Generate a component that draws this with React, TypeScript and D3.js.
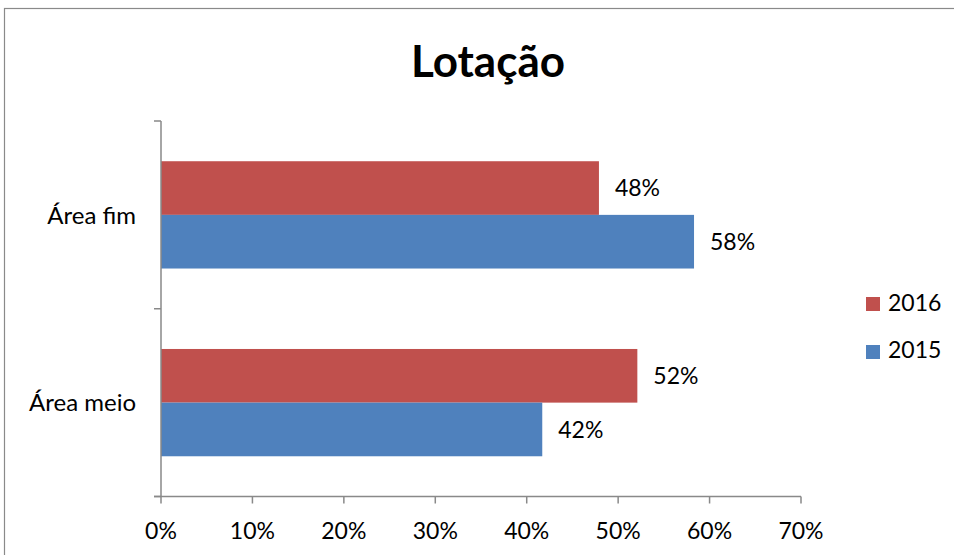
import React from "react";
import * as d3 from "d3";

const categories = ["Área fim", "Área meio"];
const seriesNames = ["2016", "2015"];
const values2016 = [0.479, 0.521];
const values2015 = [0.583, 0.417];
const xTicks = [0, 0.1, 0.2, 0.3, 0.4, 0.5, 0.6, 0.7];
const colors = ["#C0504D", "#4F81BD"];

export default function App() {
  const W = 954, H = 555;
  const left = 161, right = 801, top = 121, bottom = 496.5;
  const x = d3.scaleLinear().domain([0, 0.7]).range([left, right]);
  const y = d3.scaleBand().domain(categories).range([top, bottom]);
  const inner = d3
    .scaleBand()
    .domain(seriesNames)
    .range([0, y.bandwidth()])
    .paddingOuter(0.75)
    .paddingInner(0);
  const series = [values2016, values2015];
  const font = "Lato, 'Open Sans', sans-serif";
  const axisColor = "#898989";
  const fmt = d3.format(".0%");
  const fs = 23;
  return (
    <svg width={W} height={H} style={{ position: "absolute", left: 0, top: 0 }} fontFamily={font}>
      <rect x={0} y={0} width={W} height={H} fill="#fff" />
      <rect x={4.5} y={8.5} width={1200} height={800} fill="none" stroke="#8a8a8a" strokeWidth={1.2} />
      <text x={488} y={77} textAnchor="middle" fontSize={44} fontWeight="bold" fill="#000">
        Lotação
      </text>
      {categories.map((c, i) =>
        seriesNames.map((s, j) => {
          const v = series[j][i];
          const yy = (y(c) as number) + (inner(s) as number);
          const h = inner.bandwidth();
          return (
            <g key={c + s}>
              <rect x={x(0)} y={yy} width={x(v) - x(0)} height={h} fill={colors[j]} />
              <text x={x(v) + 16} y={yy + h / 2} dy="0.36em" fontSize={fs} fill="#000">
                {fmt(v)}
              </text>
            </g>
          );
        })
      )}
      {/* axes */}
      <line x1={left} x2={left} y1={top} y2={bottom} stroke={axisColor} strokeWidth={1.5} />
      {[top, (top + bottom) / 2, bottom].map((t, i) => (
        <line key={i} x1={left - 7} x2={left} y1={t} y2={t} stroke={axisColor} strokeWidth={1.5} />
      ))}
      <line x1={left - 7} x2={right} y1={bottom} y2={bottom} stroke={axisColor} strokeWidth={1.5} />
      {xTicks.map((t) => (
        <g key={t}>
          <line x1={x(t)} x2={x(t)} y1={bottom} y2={bottom + 7} stroke={axisColor} strokeWidth={1.5} />
          <text x={x(t)} y={531} dy="0.36em" textAnchor="middle" fontSize={fs} fill="#000">
            {fmt(t)}
          </text>
        </g>
      ))}
      {categories.map((c) => (
        <text
          key={c}
          x={136}
          y={(y(c) as number) + y.bandwidth() / 2}
          dy="0.36em"
          textAnchor="end"
          fontSize={24}
          fill="#000"
        >
          {c}
        </text>
      ))}
      {seriesNames.map((s, j) => (
        <g key={s}>
          <rect x={866} y={297 + j * 48} width={14} height={14} fill={colors[j]} />
          <text x={888} y={311 + j * 47} fontSize={fs} fill="#000">
            {s}
          </text>
        </g>
      ))}
    </svg>
  );
}
